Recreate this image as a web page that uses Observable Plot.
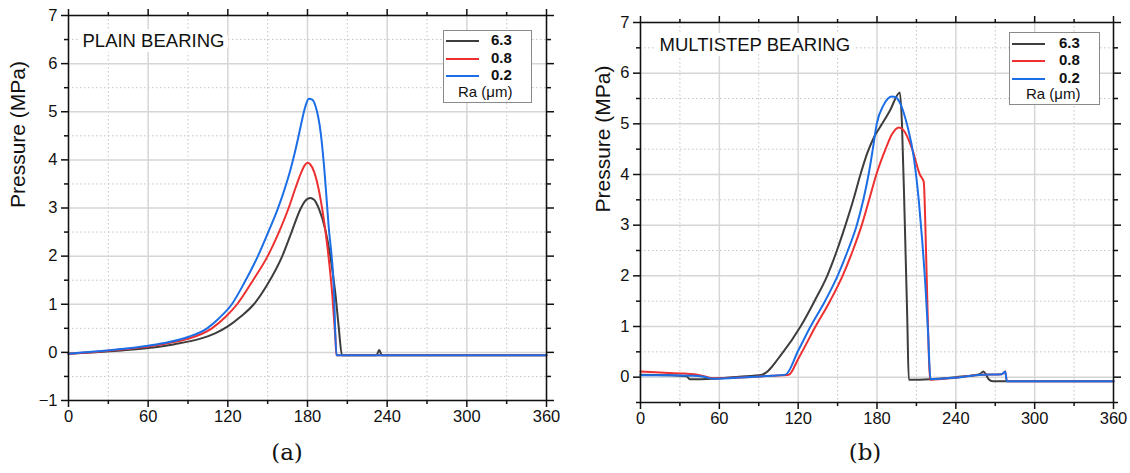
<!DOCTYPE html>
<html>
<head>
<meta charset="utf-8">
<script src="https://cdn.jsdelivr.net/npm/d3@7"></script>
<script src="https://cdn.jsdelivr.net/npm/@observablehq/plot@0.6"></script>
<style>
  html, body { margin: 0; padding: 0; background: #fff; }
  #root { position: relative; width: 1130px; height: 473px; overflow: hidden; font-family: "Liberation Sans", Arial, sans-serif; }
  .panel { position: absolute; top: 0; width: 565px; height: 430px; }
  .legend { position: absolute; background: #fff; border: 1px solid #8a8a8a; box-sizing: border-box; font-family: "Liberation Sans", Arial, sans-serif; color: #111; }
  .legend .swatch { position: absolute; height: 0; border-top: 2px solid; }
  .legend .lab { position: absolute; font-weight: bold; font-size: 15px; line-height: 16px; }
  .legend .ra { position: absolute; font-size: 15px; line-height: 16px; }
  .caption { position: absolute; top: 439px; font-family: "DejaVu Serif", "Liberation Serif", serif; font-size: 23px; color: #111; transform: translateX(-50%); }
</style>
</head>
<body>
<div id="root"></div>
<script>
// ---------- data ----------
const raLevels = ["6.3", "0.8", "0.2"];
const raColors = ["#3d3d3d", "#ee3030", "#1b6ee6"];
const angleTicks = [0, 60, 120, 180, 240, 300, 360];
const angleMinor = [30, 90, 150, 210, 270, 330];
const plainYTicks = [-1, 0, 1, 2, 3, 4, 5, 6, 7];
const plainYMinor = [-0.5, 0.5, 1.5, 2.5, 3.5, 4.5, 5.5, 6.5];
const multiYTicks = [0, 1, 2, 3, 4, 5, 6, 7];
const multiYMinor = [-0.5, 0.5, 1.5, 2.5, 3.5, 4.5, 5.5, 6.5];
const yLabel = "Pressure (MPa)";
const plainTitle = "PLAIN BEARING";
const multiTitle = "MULTISTEP BEARING";
const legendTitle = "Ra (μm)";
const captions = ["(a)", "(b)"];

// Plain bearing: [angle (deg), pressure (MPa)]
const plain63 = [[0,-0.03],[20,0.0],[40,0.04],[60,0.09],[80,0.17],[100,0.29],[110,0.39],[120,0.54],[130,0.75],[139.6,1.0],[150,1.42],[161,2.0],[168,2.5],[174.7,2.98],[178,3.14],[182,3.21],[185,3.17],[188.5,2.99],[193.5,2.54],[197.3,1.98],[201,1.22],[203.5,0.53],[206,-0.06],[232,-0.06],[234,0.05],[236,-0.06],[360,-0.06]];
const plain08 = [[0,-0.03],[20,0.01],[40,0.06],[60,0.12],[75,0.19],[90,0.28],[108,0.5],[118,0.73],[127,1.0],[139,1.5],[150,2.0],[158.5,2.5],[165.8,3.0],[171,3.42],[175,3.72],[178,3.89],[180,3.94],[182,3.91],[185,3.75],[190,3.16],[195,2.19],[198.6,1.22],[201,0.3],[201.8,-0.06],[360,-0.06]];
const plain02 = [[0,-0.03],[20,0.02],[40,0.07],[60,0.14],[75,0.21],[90,0.32],[104.4,0.5],[113,0.7],[123,1.0],[132.5,1.45],[142.3,1.98],[150,2.47],[157.6,2.98],[164,3.5],[167,3.78],[170,4.1],[173,4.46],[175.5,4.78],[177.5,5.02],[179.2,5.18],[181,5.27],[183.5,5.25],[186,5.12],[188,4.9],[190,4.55],[192.3,3.92],[196,2.6],[199.8,1.36],[201.8,-0.06],[360,-0.06]];

// Multistep bearing: [angle (deg), pressure (MPa)]
const multi63 = [[0,0.05],[20,0.04],[35,0.02],[37.5,-0.04],[55,-0.03],[75,0.01],[92.5,0.05],[107.8,0.47],[121.8,1.0],[132.4,1.5],[142.1,2.0],[149.5,2.5],[156,3.0],[162,3.5],[167.4,4.0],[173,4.45],[178,4.75],[183.9,5.0],[190,5.27],[197.4,5.62],[199,5.0],[201,3.2],[203,1.2],[204.2,-0.05],[220,-0.04],[240,0.0],[258,0.06],[261,0.11],[263,0.05],[265,-0.04],[268,-0.08],[360,-0.08]];
const multi08 = [[0,0.11],[15,0.09],[33,0.07],[45,0.04],[55,-0.02],[80,0.0],[100,0.03],[112.9,0.05],[120,0.36],[133.2,1.0],[144.2,1.5],[153.8,2.0],[161.6,2.5],[168.4,3.0],[174,3.5],[179.5,4.0],[186.5,4.5],[191.5,4.8],[196.6,4.93],[200,4.88],[206.8,4.5],[212.6,4.0],[215.6,3.85],[216.8,3.0],[217.8,2.0],[218.8,1.0],[220.5,-0.05],[240,-0.01],[260,0.05],[275,0.06],[277.6,0.11],[278.8,-0.08],[360,-0.08]];
const multi02 = [[0,0.04],[20,0.04],[40,0.03],[48,0.01],[55,-0.03],[80,0.0],[100,0.03],[110.4,0.05],[120,0.52],[129.4,1.0],[140.4,1.5],[150,2.0],[157.8,2.5],[164.6,3.0],[169.6,3.5],[173.6,4.0],[176.8,4.5],[179.8,5.0],[185,5.37],[191.5,5.54],[194,5.53],[197.9,5.39],[203,4.97],[208,4.34],[211.8,3.49],[214.4,2.70],[216.9,1.78],[218.9,0.86],[220.7,-0.04],[240,-0.01],[260,0.05],[275,0.06],[277.6,0.11],[278.8,-0.08],[360,-0.08]];

// ---------- drawing ----------
const toRows = (pts, ra) => pts.map(([a, p]) => ({angle: a, pressure: p, ra}));
const fmt = d => (d < 0 ? "\u2212" + Math.abs(d) : String(d));

function panel({series, yDomain, yTicks, yMinor, margin, title, titleDx, titleDy, labelDx}) {
  const gridMinor = {stroke: "#c4c4c4", strokeOpacity: 1, strokeWidth: 1, strokeDasharray: "1.5,2.5"};
  const gridMajor = {stroke: "#d6d6d6", strokeOpacity: 1, strokeWidth: 1.5};
  const tickStyle = {stroke: "#111", strokeWidth: 1.5};
  const noText = () => "";
  return Plot.plot({
    width: 565,
    height: 430,
    marginLeft: margin[0], marginRight: margin[1], marginTop: margin[2], marginBottom: margin[3],
    style: {fontFamily: "'Liberation Sans', Arial, sans-serif", color: "#111", background: "transparent", overflow: "visible"},
    x: {domain: [0, 360]},
    y: {domain: yDomain},
    color: {domain: raLevels, range: raColors},
    marks: [
      Plot.gridX(angleMinor, gridMinor),
      Plot.gridY(yMinor, gridMinor),
      Plot.gridX(angleTicks, gridMajor),
      Plot.gridY(yTicks, gridMajor),
      Plot.text([title], {frameAnchor: "top-left", dx: titleDx, dy: titleDy, fontSize: 18.5, fill: "#111", stroke: "white", strokeWidth: 10, textAnchor: "start"}),
      ...series.map(s => Plot.line(toRows(s.pts, s.ra), {x: "angle", y: "pressure", stroke: "ra", strokeWidth: 2, curve: "monotone-x"})),
      Plot.frame({stroke: "#111", strokeWidth: 1.5}),
      Plot.axisX(angleTicks, {tickSize: 7, tickPadding: 3, fontSize: 16.5, tickFormat: fmt, label: null, ...tickStyle, fill: "#111"}),
      Plot.axisX(angleMinor, {tickSize: 4, tickFormat: noText, label: null, ...tickStyle}),
      Plot.axisX(angleTicks, {anchor: "top", tickSize: 7, tickFormat: noText, label: null, ...tickStyle}),
      Plot.axisX(angleMinor, {anchor: "top", tickSize: 4, tickFormat: noText, label: null, ...tickStyle}),
      Plot.axisY(yTicks, {tickSize: 7, tickPadding: 4, fontSize: 16.5, tickFormat: fmt, label: null, ...tickStyle, fill: "#111"}),
      Plot.axisY(yMinor, {tickSize: 4, tickFormat: noText, label: null, ...tickStyle}),
      Plot.axisY(yTicks, {anchor: "right", tickSize: 7, tickFormat: noText, label: null, ...tickStyle}),
      Plot.axisY(yMinor, {anchor: "right", tickSize: 4, tickFormat: noText, label: null, ...tickStyle}),
      Plot.text([yLabel], {frameAnchor: "left", dx: labelDx, rotate: -90, fontSize: 21, fill: "#111"})
    ]
  });
}

function legend(box) {
  const el = document.createElement("div");
  el.className = "legend";
  Object.assign(el.style, {left: box.left + "px", top: box.top + "px", width: box.width + "px", height: box.height + "px"});
  raLevels.forEach((ra, i) => {
    const sw = document.createElement("div");
    sw.className = "swatch";
    Object.assign(sw.style, {left: box.swLeft + "px", width: box.swWidth + "px", top: (box.row0 + i * box.rowGap) + "px", borderTopColor: raColors[i]});
    el.appendChild(sw);
    const t = document.createElement("div");
    t.className = "lab";
    t.textContent = ra;
    Object.assign(t.style, {left: box.labLeft + "px", top: (box.row0 + i * box.rowGap - 8) + "px"});
    el.appendChild(t);
  });
  const r = document.createElement("div");
  r.className = "ra";
  r.textContent = legendTitle;
  Object.assign(r.style, {left: box.raLeft + "px", top: (box.row0 + 3 * box.rowGap - 9) + "px"});
  el.appendChild(r);
  return el;
}

const root = document.getElementById("root");

const left = document.createElement("div");
left.className = "panel"; left.style.left = "0px";
left.appendChild(panel({
  series: [{ra: "6.3", pts: plain63}, {ra: "0.8", pts: plain08}, {ra: "0.2", pts: plain02}],
  yDomain: [-1, 7], yTicks: plainYTicks, yMinor: plainYMinor,
  margin: [68, 19, 15, 30], title: plainTitle, titleDx: 14, titleDy: 18, labelDx: -50
}));
root.appendChild(left);

const right = document.createElement("div");
right.className = "panel"; right.style.left = "565px";
right.appendChild(panel({
  series: [{ra: "6.3", pts: multi63}, {ra: "0.8", pts: multi08}, {ra: "0.2", pts: multi02}],
  yDomain: [-0.5, 7], yTicks: multiYTicks, yMinor: multiYMinor,
  margin: [75, 17, 22, 28], title: multiTitle, titleDx: 19, titleDy: 15, labelDx: -37
}));
root.appendChild(right);

root.appendChild(legend({left: 443, top: 30, width: 89, height: 73, swLeft: 2, swWidth: 33, row0: 9, rowGap: 17.5, labLeft: 47, raLeft: 14}));
root.appendChild(legend({left: 1009, top: 32, width: 91, height: 73, swLeft: 2, swWidth: 33, row0: 10, rowGap: 17.3, labLeft: 49, raLeft: 16}));

captions.forEach((c, i) => {
  const d = document.createElement("div");
  d.className = "caption";
  d.textContent = c;
  d.style.left = (i === 0 ? 287 : 865) + "px";
  root.appendChild(d);
});
</script>
</body>
</html>
